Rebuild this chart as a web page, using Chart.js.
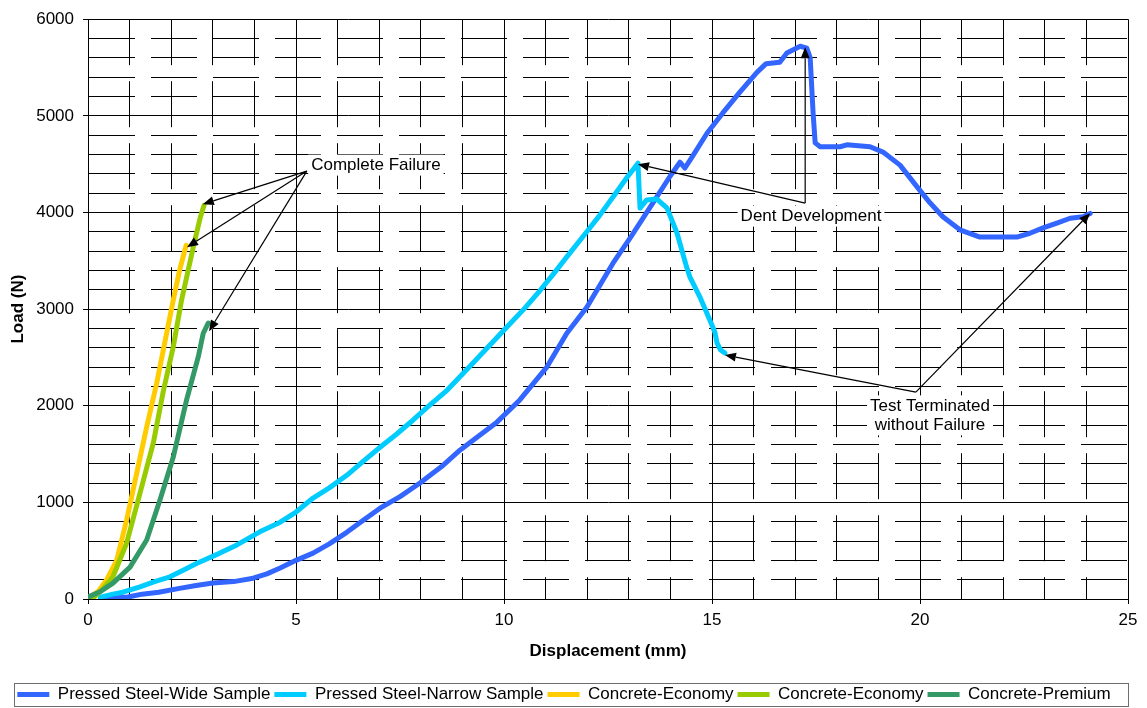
<!DOCTYPE html>
<html>
<head>
<meta charset="utf-8">
<script src="https://cdn.jsdelivr.net/npm/chart.js@4/dist/chart.umd.min.js"></script>
<style>
  html, body { margin: 0; padding: 0; background: #fff; }
  #wrap { width: 1147px; height: 708px; }
</style>
</head>
<body>
<div id="wrap"><canvas id="loadChart" width="1147" height="708"></canvas></div>
<script>
// displacement (mm) / load (N)
const wideX = [0.3, 0.6, 0.96, 1.3, 1.7, 2.2, 2.6, 3.0, 3.5, 3.97, 4.3, 4.62, 5.0, 5.41, 5.8, 6.22, 6.6, 7.02, 7.5, 7.98, 8.5, 8.94, 9.4, 9.83, 10.38, 11.03, 11.51, 11.99, 12.62, 13.03, 13.58, 14.0, 14.23, 14.35, 14.5, 14.88, 15.26, 15.67, 16.08, 16.3, 16.63, 16.8, 17.12, 17.28, 17.36, 17.43, 17.48, 17.6, 18.08, 18.24, 18.8, 19.11, 19.52, 19.93, 20.24, 20.55, 20.96, 21.44, 22.33, 22.64, 22.96, 23.29, 23.61, 23.92, 24.09];
const wideY = [0, 10, 20, 50, 70, 110, 140, 165, 180, 215, 260, 320, 400, 475, 570, 690, 810, 940, 1060, 1200, 1370, 1540, 1690, 1830, 2060, 2400, 2750, 3020, 3475, 3735, 4100, 4380, 4520, 4460, 4560, 4820, 5030, 5245, 5450, 5540, 5555, 5650, 5720, 5700, 5600, 5030, 4720, 4680, 4680, 4700, 4680, 4625, 4490, 4265, 4100, 3955, 3820, 3745, 3745, 3785, 3840, 3890, 3940, 3955, 3990];

const narrowX = [0.3, 0.6, 0.84, 1.25, 1.6, 1.97, 2.3, 2.62, 3.17, 3.58, 4.13, 4.62, 5.0, 5.41, 5.8, 6.22, 6.6, 7.02, 7.4, 7.81, 8.2, 8.63, 9.25, 9.6, 10.07, 10.5, 10.87, 11.2, 11.51, 11.99, 12.3, 12.62, 12.96, 13.22, 13.27, 13.43, 13.67, 13.92, 14.16, 14.39, 14.47, 14.71, 14.95, 15.07, 15.12, 15.2, 15.31];
const narrowY = [20, 50, 70, 125, 180, 230, 300, 370, 475, 560, 695, 795, 900, 1045, 1150, 1280, 1420, 1570, 1700, 1850, 2000, 2160, 2440, 2600, 2815, 3010, 3195, 3370, 3540, 3800, 3970, 4160, 4365, 4510, 4045, 4130, 4140, 4045, 3785, 3435, 3330, 3125, 2885, 2760, 2650, 2580, 2545];

const econ1X = [0.05, 0.25, 0.45, 0.69, 0.93, 1.17, 1.41, 1.65, 1.89, 2.05, 2.2, 2.36];
const econ1Y = [20, 80, 200, 400, 820, 1300, 1780, 2230, 2750, 3095, 3400, 3660];

const econ2X = [0.12, 0.35, 0.6, 0.93, 1.25, 1.57, 1.81, 2.05, 2.25, 2.53, 2.7, 2.79];
const econ2Y = [10, 100, 230, 580, 1095, 1615, 2150, 2610, 3095, 3640, 3950, 4075];

const premX = [0, 0.29, 0.6, 1.01, 1.41, 1.73, 2.05, 2.37, 2.65, 2.77, 2.89];
const premY = [20, 75, 165, 330, 610, 1025, 1470, 2060, 2505, 2750, 2855];

const seriesNames = ['Pressed Steel-Wide Sample', 'Pressed Steel-Narrow Sample', 'Concrete-Economy', 'Concrete-Economy', 'Concrete-Premium'];
const seriesColors = ['#3366FF', '#00CCFF', '#FFCC00', '#99CC00', '#339966'];

const xTicks = [0, 5, 10, 15, 20, 25];
const yTicks = [0, 1000, 2000, 3000, 4000, 5000, 6000];

// callouts: label anchor, line vertex, arrow tips (all in data units)
const notes = [
  { lines: ['Complete Failure'], at: [6.92, 4490], from: [5.26, 4428], to: [[2.76, 4086], [2.38, 3641], [2.91, 2772]] },
  { lines: ['Dent Development'], at: [17.38, 3962], from: [17.24, 4097], to: [[17.24, 5710], [13.22, 4500]] },
  { lines: ['Test Terminated', 'without Failure'], at: [20.24, 1900], from: [19.9, 2141], to: [[15.31, 2524], [24.09, 3993]] }
];

function pts(xs, ys) {
  return xs.map((x, i) => ({ x: x, y: ys[i] }));
}

const seriesData = [pts(wideX, wideY), pts(narrowX, narrowY), pts(econ1X, econ1Y), pts(econ2X, econ2Y), pts(premX, premY)];

Chart.defaults.font.family = "'Liberation Sans', Arial, sans-serif";
Chart.defaults.font.size = 17;
Chart.defaults.color = '#000';

function drawArrow(ctx, x1, y1, x2, y2) {
  const ang = Math.atan2(y2 - y1, x2 - x1);
  const len = 11, half = 4.5;
  ctx.beginPath();
  ctx.moveTo(x1, y1);
  ctx.lineTo(x2 - Math.cos(ang) * len, y2 - Math.sin(ang) * len);
  ctx.stroke();
  ctx.beginPath();
  ctx.moveTo(x2, y2);
  ctx.lineTo(x2 - Math.cos(ang) * len - Math.sin(ang) * half, y2 - Math.sin(ang) * len + Math.cos(ang) * half);
  ctx.lineTo(x2 - Math.cos(ang) * len + Math.sin(ang) * half, y2 - Math.sin(ang) * len - Math.cos(ang) * half);
  ctx.closePath();
  ctx.fill();
}

const notesPlugin = {
  id: 'notes',
  afterDatasetsDraw(chart) {
    const { ctx } = chart;
    const sx = chart.scales.x, sy = chart.scales.y;
    ctx.save();
    ctx.font = "17px 'Liberation Sans', Arial, sans-serif";
    ctx.textAlign = 'center';
    ctx.textBaseline = 'middle';
    notes.forEach(n => {
      const cx = sx.getPixelForValue(n.at[0]);
      const cy = sy.getPixelForValue(n.at[1]);
      const lh = 19;
      const w = Math.max(...n.lines.map(t => ctx.measureText(t).width)) + 6;
      const h = lh * n.lines.length + 2;
      ctx.fillStyle = '#fff';
      ctx.fillRect(cx - w / 2, cy - h / 2, w, h);
      ctx.fillStyle = '#000';
      n.lines.forEach((t, i) => {
        ctx.fillText(t, cx, cy - (n.lines.length - 1) * lh / 2 + i * lh);
      });
      const fx = sx.getPixelForValue(n.from[0]);
      const fy = sy.getPixelForValue(n.from[1]);
      ctx.strokeStyle = '#000';
      ctx.lineWidth = 1.2;
      n.to.forEach(t => drawArrow(ctx, fx, fy, sx.getPixelForValue(t[0]), sy.getPixelForValue(t[1])));
    });
    ctx.restore();
  }
};

const legendBoxPlugin = {
  id: 'legendBox',
  afterDraw(chart) {
    const lg = chart.legend;
    if (!lg || !lg.legendHitBoxes || !lg.legendHitBoxes.length) return;
    const boxes = lg.legendHitBoxes;
    const left = Math.min(...boxes.map(b => b.left)) - 3;
    const right = Math.max(...boxes.map(b => b.left + b.width)) + 18;
    const top = Math.min(...boxes.map(b => b.top)) - 3;
    const bottom = Math.max(...boxes.map(b => b.top + b.height)) + 3;
    const ctx = chart.ctx;
    ctx.save();
    ctx.strokeStyle = '#6e6e6e';
    ctx.lineWidth = 1;
    ctx.strokeRect(Math.round(left) + 0.5, Math.round(top) + 0.5, Math.round(right - left), Math.round(bottom - top));
    ctx.restore();
  }
};

const isMajorX = c => c.tick && xTicks.includes(c.tick.value);
const isMajorY = c => c.tick && yTicks.includes(c.tick.value);

const ctx = document.getElementById('loadChart').getContext('2d');
const loadChart = new Chart(ctx, {
  type: 'line',
  data: {
    datasets: seriesNames.map((name, i) => ({
      label: name,
      data: seriesData[i],
      borderColor: seriesColors[i],
      backgroundColor: seriesColors[i],
      borderWidth: 5,
      borderCapStyle: 'round',
      borderJoinStyle: 'round',
      pointRadius: 0,
      tension: 0,
      fill: false,
      order: seriesNames.length - i
    }))
  },
  options: {
    responsive: false,
    animation: false,
    layout: { padding: { left: 0, right: 19, top: 19, bottom: -5 } },
    plugins: {
      tooltip: { enabled: false },
      legend: {
        position: 'bottom',
        labels: {
          usePointStyle: true,
          pointStyle: 'line',
          pointStyleWidth: 32,
          padding: 4,
          color: '#000',
          font: { size: 17 },
          sort: (a, b) => a.datasetIndex - b.datasetIndex
        }
      }
    },
    scales: {
      x: {
        type: 'linear',
        min: 0,
        max: 25,
        ticks: {
          stepSize: 1,
          autoSkip: false,
          maxRotation: 0,
          padding: 6,
          callback: v => xTicks.includes(v) ? String(v) : ''
        },
        grid: {
          color: '#000',
          lineWidth: 1,
          tickLength: 5,
          tickColor: c => isMajorX(c) ? '#000' : 'rgba(0,0,0,0)'
        },
        border: {
          color: '#000',
          dash: c => (c.tick && !isMajorX(c)) ? [46, 16] : []
        },
        title: {
          display: true,
          text: 'Displacement (mm)',
          font: { size: 17, weight: 'bold' },
          padding: { top: 0, bottom: 20 }
        },
        afterFit: s => { s.height = 83; }
      },
      y: {
        type: 'linear',
        min: 0,
        max: 6000,
        ticks: {
          stepSize: 200,
          autoSkip: false,
          padding: 9,
          callback: v => yTicks.includes(v) ? String(v) : ''
        },
        grid: {
          color: '#000',
          lineWidth: 1,
          tickLength: 5,
          tickColor: c => isMajorY(c) ? '#000' : 'rgba(0,0,0,0)'
        },
        border: {
          color: '#000',
          dash: c => (c.tick && !isMajorY(c)) ? [46, 16] : []
        },
        title: {
          display: true,
          text: 'Load (N)',
          font: { size: 17, weight: 'bold' },
          padding: { top: 8, bottom: 0 }
        },
        afterFit: s => { s.width = 88; }
      }
    }
  },
  plugins: [notesPlugin, legendBoxPlugin]
});
</script>
</body>
</html>
